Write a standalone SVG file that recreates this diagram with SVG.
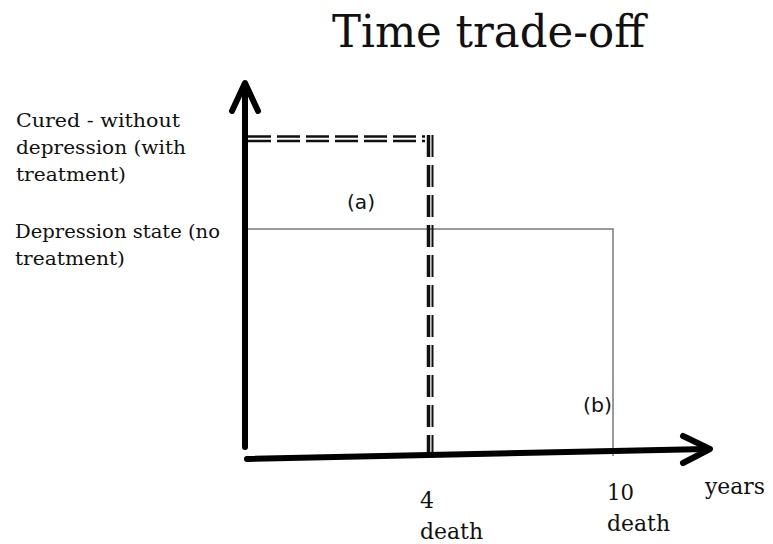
<svg xmlns="http://www.w3.org/2000/svg" width="773" height="544" viewBox="0 0 773 544">
<style>
.serif{font-family:"DejaVu Serif","Liberation Serif",serif;fill:#111}
.sans{font-family:"DejaVu Sans","Liberation Sans",sans-serif;fill:#111}
.axis{stroke:#000;stroke-width:6;fill:none;stroke-linecap:round;stroke-linejoin:round}
.thin{stroke:#7a7a7a;stroke-width:1.5;fill:none}
.hdash{stroke:#111;fill:none;stroke-width:2.5;stroke-dasharray:23 6}
.vdash{stroke:#111;fill:none;stroke-dasharray:22 8}
</style>
<rect width="773" height="544" fill="#fff"/>
<g id="title"><text class="serif" x="332" y="47" font-size="45" textLength="313" lengthAdjust="spacingAndGlyphs">Time trade-off</text></g>
<g id="label-cured">
<text class="serif" x="16" y="127" font-size="19" textLength="164" lengthAdjust="spacingAndGlyphs">Cured - without</text>
<text class="serif" x="16" y="154" font-size="19" textLength="170" lengthAdjust="spacingAndGlyphs">depression (with</text>
<text class="serif" x="16" y="181" font-size="19" textLength="110" lengthAdjust="spacingAndGlyphs">treatment)</text>
</g>
<g id="label-depression">
<text class="serif" x="15" y="238" font-size="19" textLength="205" lengthAdjust="spacingAndGlyphs">Depression state (no</text>
<text class="serif" x="15" y="265" font-size="19" textLength="110" lengthAdjust="spacingAndGlyphs">treatment)</text>
</g>
<g id="connectors">
<polyline class="thin" points="247,229 613,229 613,456"/>
<line class="hdash" x1="248" y1="136.5" x2="425" y2="136.5"/>
<line class="hdash" x1="248" y1="141" x2="425" y2="141"/>
<line class="vdash" x1="428.5" y1="135" x2="428.5" y2="457" style="stroke-width:3.5"/>
<line class="vdash" x1="432.5" y1="135" x2="432.5" y2="457" style="stroke-width:2"/>
<line class="axis" x1="245" y1="447" x2="245" y2="86"/>
<polyline class="axis" points="232,111 245,83 258,111"/>
<line class="axis" x1="247" y1="459" x2="707" y2="449"/>
<polyline class="axis" points="683,436 710,449 683,463"/>
</g>
<g id="label-a"><text class="sans" x="347" y="209" font-size="19" textLength="28" lengthAdjust="spacingAndGlyphs">(a)</text></g>
<g id="label-b"><text class="sans" x="583" y="412" font-size="19" textLength="29" lengthAdjust="spacingAndGlyphs">(b)</text></g>
<g id="tick-4">
<text class="serif" x="420" y="508" font-size="22">4</text>
<text class="serif" x="420" y="539" font-size="22" textLength="63" lengthAdjust="spacingAndGlyphs">death</text>
</g>
<g id="tick-10">
<text class="serif" x="607" y="500" font-size="22" textLength="27" lengthAdjust="spacingAndGlyphs">10</text>
<text class="serif" x="607" y="531" font-size="22" textLength="63" lengthAdjust="spacingAndGlyphs">death</text>
</g>
<g id="label-years"><text class="serif" x="705" y="494" font-size="22" textLength="60" lengthAdjust="spacingAndGlyphs">years</text></g>
</svg>
